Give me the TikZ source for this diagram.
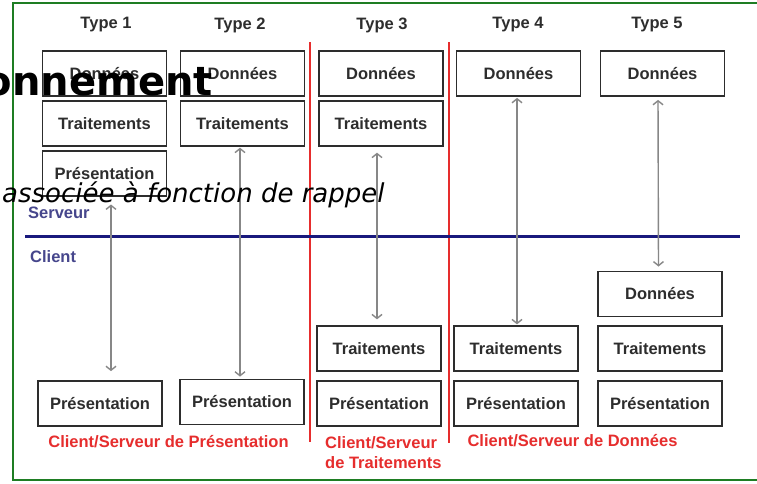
\documentclass[tikz,border=0pt]{standalone}
\usepackage{fontspec}
\setmainfont{Liberation Sans}
\newfontfamily\dejavu{DejaVu Sans}
\usetikzlibrary{positioning,arrows.meta}
\definecolor{CadreVert}{RGB}{30,125,35}
\definecolor{SepRouge}{RGB}{230,45,45}
\definecolor{LigneBleue}{RGB}{25,25,125}
\definecolor{TexteBleu}{RGB}{70,70,140}
\definecolor{TexteGris}{RGB}{45,45,45}
\definecolor{FlecheGrise}{RGB}{135,135,135}

\begin{document}
\begin{tikzpicture}[x=1pt, y=1pt,
    node distance=3pt,
    couche/.style={rectangle, draw=TexteGris, line width=1.8pt, fill=white,
        minimum width=124pt, minimum height=45pt, inner sep=0pt,
        font=\fontsize{16.5}{20}\selectfont\bfseries, text=TexteGris},
    entete/.style={font=\fontsize{16.5}{20}\selectfont\bfseries, text=TexteGris, inner sep=0pt},
    zone/.style={font=\fontsize{16.5}{20}\selectfont\bfseries, text=TexteBleu, inner sep=0pt, anchor=west},
    bilan/.style={font=\fontsize{16.5}{20}\selectfont\bfseries, text=SepRouge, inner sep=0pt, align=left},
    lien/.style={{Straight Barb[length=4pt,width=10pt]}-{Straight Barb[length=4pt,width=10pt]},
        line width=1.4pt, draw=FlecheGrise},
    sep/.style={line width=2.4pt, draw=SepRouge},
]
\useasboundingbox (0,0) rectangle (757,-483);
\clip (0,0) rectangle (757,-483);
\fill[white] (0,0) rectangle (757,-483);
\draw[line width=2.8pt, draw=CadreVert] (13,-3) rectangle (790,-480);

% en-tetes
\node[entete] (type1) at (106,-25) {Type 1};
\node[entete] (type2) at (240,-25) {Type 2};
\node[entete] (type3) at (382,-25) {Type 3};
\node[entete] (type4) at (518,-25) {Type 4};
\node[entete] (type5) at (657,-25) {Type 5};

% separations
\coordinate (s1h) at (310,-42);
\coordinate (s1b) at (310,-442);
\coordinate (s2h) at (449,-42);
\coordinate (s2b) at (449,-443);
\draw[sep] (s1h) -- (s1b);
\draw[sep] (s2h) -- (s2b);
\coordinate (bg) at (25,-236);
\coordinate (bd) at (740,-236);
\draw[line width=3pt, draw=LigneBleue] (bg) -- (bd);
\node[zone] (serveur) at (28,-213) {Serveur};
\node[zone] (client) at (30,-257) {Client};

% cote serveur
\node[couche] (d1) at (104.5,-73.5) {Données};
\node[couche, below=of d1] (t1) {Traitements};
\node[couche, below=of t1] (pr1) {Présentation};
\node[couche] (d2) at (242.5,-73.5) {Données};
\node[couche, below=of d2] (t2) {Traitements};
\node[couche] (d3) at (381,-73.5) {Données};
\node[couche, below=of d3] (t3) {Traitements};
\node[couche] (d4) at (518.5,-73.5) {Données};
\node[couche] (d5) at (662.5,-73.5) {Données};

% cote client
\node[couche] (p1) at (100,-403.5) {Présentation};
\node[couche] (p2) at (242,-402) {Présentation};
\node[couche] (p3) at (379,-403.5) {Présentation};
\node[couche, above=8pt of p3] (t3b) {Traitements};
\node[couche] (p4) at (516,-403.5) {Présentation};
\node[couche, above=8pt of p4] (t4b) {Traitements};
\node[couche] (p5) at (660,-403.5) {Présentation};
\node[couche, above=8pt of p5] (t5b) {Traitements};
\node[couche, above=8pt of t5b] (d5b) {Données};

% echanges
\draw[lien, shorten <=8pt, shorten >=9pt] ([xshift=6.5pt]pr1.south) -- ([xshift=11pt]p1.north);
\draw[lien, shorten <=1pt, shorten >=2pt] ([xshift=-2.5pt]t2.south) -- ([xshift=-2pt]p2.north);
\draw[lien, shorten <=6pt, shorten >=6pt] ([xshift=-4pt]t3.south) -- ([xshift=-2pt]t3b.north);
\draw[lien, shorten <=1pt, shorten >=1pt] ([xshift=-1.5pt]d4.south) -- ([xshift=1pt]t4b.north);
\draw[lien, shorten <=3pt, shorten >=4pt] ([xshift=-4.5pt]d5.south) -- ([xshift=-1.5pt]d5b.north);

% legendes
\node[bilan] (cs1) at (168.5,-442) {Client/Serveur de Présentation};
\node[bilan, anchor=west] (cs2) at (325,-453) {Client/Serveur\\de Traitements};
\node[bilan] (cs3) at (572.5,-441) {Client/Serveur de Données};

% textes superposes
\node[anchor=base east, inner sep=0pt, font=\dejavu\bfseries\fontsize{40}{48}\selectfont] (titre) at (213,-95) {onnement};
\node[anchor=base west, inner sep=0pt, font=\dejavu\itshape\fontsize{26}{31}\selectfont] (rappel) at (2,-202) {associée à fonction de rappel};
\end{tikzpicture}
\end{document}
